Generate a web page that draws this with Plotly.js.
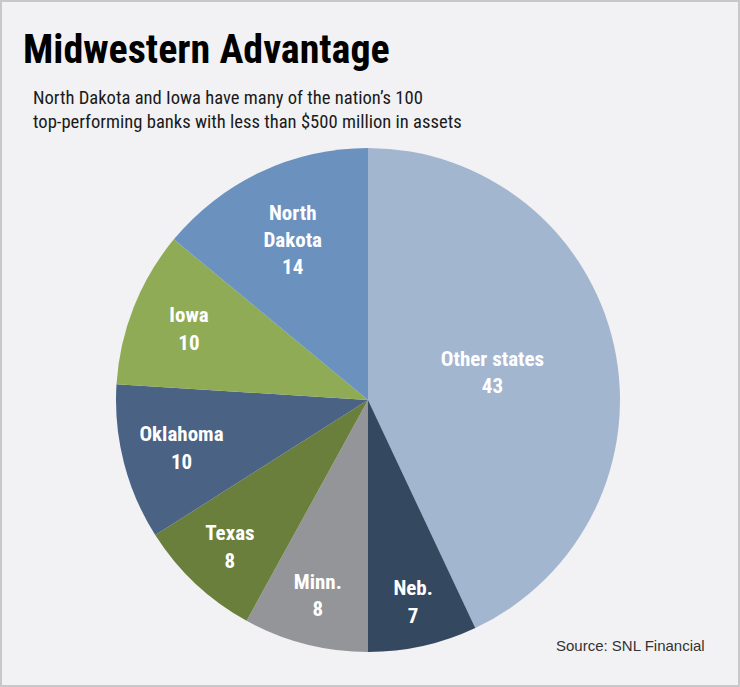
<!DOCTYPE html>
<html>
<head>
<meta charset="utf-8">
<script src="https://cdn.plot.ly/plotly-3.0.1.min.js"></script>
<style>
html,body{margin:0;padding:0;background:#f2f2f4;}
#chart{width:740px;height:687px;}
</style>
</head>
<body>
<div id="chart"></div>
<script>
const categories = ["Other states", "Neb.", "Minn.", "Texas", "Oklahoma", "Iowa", "North Dakota"];
const displayLabels = ["Other states", "Neb.", "Minn.", "Texas", "Oklahoma", "Iowa", "North<br>Dakota"];
const bankCounts = [43, 7, 8, 8, 10, 10, 14];
const sliceColors = ["#a3b6d0", "#34485f", "#949598", "#6b7f3d", "#4a6283", "#8fab55", "#6b91bf"];

const titleText = "Midwestern Advantage";
const subtitleText = "North Dakota and Iowa have many of the nation’s 100<br>top-performing banks with less than $500 million in assets";
const sourceText = "Source: SNL Financial";

const W = 740, H = 687;
const cx = 368, cy = 400, r = 252;
const condensed = "'Roboto Condensed', 'Open Sans Condensed', 'Liberation Sans', sans-serif";

const trace = {
  type: "pie",
  labels: categories,
  values: bankCounts,
  text: displayLabels,
  sort: false,
  direction: "clockwise",
  rotation: 0,
  hole: 0,
  marker: {colors: sliceColors, line: {width: 0}},
  texttemplate: "%{text}<br>%{value}",
  textposition: "inside",
  insidetextorientation: "horizontal",
  insidetextfont: {family: condensed, size: 21, color: "#ffffff", weight: "bold"},
  hoverinfo: "label+value",
  showlegend: false,
  domain: {x: [(cx - r) / W, (cx + r) / W], y: [(H - cy - r) / H, (H - cy + r) / H]}
};

const layout = {
  width: W, height: H,
  margin: {l: 0, r: 0, t: 0, b: 0},
  paper_bgcolor: "#f2f2f4",
  plot_bgcolor: "#f2f2f4",
  annotations: [
    {text: titleText, xref: "paper", yref: "paper", x: 21 / W, y: 1 - 24 / H, xanchor: "left", yanchor: "top",
     showarrow: false, font: {family: condensed, size: 40, color: "#000000", weight: "bold"}},
    {text: subtitleText, xref: "paper", yref: "paper", x: 31 / W, y: 1 - 85 / H, xanchor: "left", yanchor: "top", align: "left",
     showarrow: false, font: {family: condensed, size: 18.6, color: "#1a1a1a"}},
    {text: sourceText, xref: "paper", yref: "paper", x: 707 / W, y: 1 - 656 / H, xanchor: "right", yanchor: "bottom",
     showarrow: false, font: {family: "'Liberation Sans', Arial, sans-serif", size: 15, color: "#333333"}}
  ],
  shapes: [
    {type: "rect", xref: "paper", yref: "paper", x0: 0, x1: 1, y0: 0, y1: 1, line: {color: "#c8c8ca", width: 4}, fillcolor: "rgba(0,0,0,0)"}
  ]
};

Plotly.newPlot("chart", [trace], layout, {displayModeBar: false, staticPlot: true});
</script>
</body>
</html>
